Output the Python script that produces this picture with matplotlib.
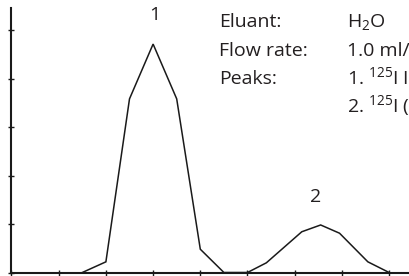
import matplotlib
matplotlib.use("Agg")
import matplotlib.pyplot as plt

plt.rcParams['font.family'] = ['Open Sans', 'DejaVu Sans']
plt.rcParams['mathtext.default'] = 'regular'

# Chromatogram trace (elution time units, response units)
time = [1.5, 2.0, 2.5, 3.0, 3.5, 4.0, 4.5, 5.0, 5.4, 6.15, 6.55, 6.95, 7.55, 8.0]
response = [0, 0.22, 3.58, 4.71, 3.58, 0.48, 0, 0, 0.2, 0.84, 0.98, 0.81, 0.22, 0]

peak_labels = ["1", "2"]
peak_pos = [(3.04, 5.31), (6.45, 1.56)]

x_ticks = list(range(0, 9))
y_ticks = list(range(0, 6))

info_labels = ["Eluant:", "Flow rate:", "Peaks:", ""]
info_values = ["H$_2$O", "1.0 ml/min", "1. $^{125}$I Insulin", "2. $^{125}$I (free)"]

W, H = 410, 276
fig = plt.figure(figsize=(W/100, H/100), dpi=100)
ax_left, ax_bottom = 11.5/W, 3.5/H
ax = fig.add_axes([ax_left, ax_bottom, 1 - ax_left, (272.5 - 8)/H])
ax.plot(time, response, color='#1a1a1a', lw=1.1, solid_joinstyle='miter')
ax.set_xlim(0, (W - 11.5)/47.2)
ax.set_ylim(0, 264.5/48.5)
ax.set_xticks(x_ticks)
ax.set_yticks(y_ticks)
ax.set_xticklabels([])
ax.set_yticklabels([])
ax.tick_params(direction='inout', length=5, width=1, color='#1a1a1a')
for s in ['top', 'right']:
    ax.spines[s].set_visible(False)
for s in ['left', 'bottom']:
    ax.spines[s].set_linewidth(1.5)
    ax.spines[s].set_color('#1a1a1a')
ax.patch.set_alpha(0)

for lab, (px, py) in zip(peak_labels, peak_pos):
    ax.text(px, py, lab, ha='center', va='center', fontsize=14, color='#231f20')

baselines = [27, 55.5, 84, 112.5]
for lab, val, b in zip(info_labels, info_values, baselines):
    fig.text(219/W, 1 - b/H, lab, ha='left', va='baseline', fontsize=14, color='#231f20')
    fig.text(347/W, 1 - b/H, val, ha='left', va='baseline', fontsize=14, color='#231f20')

fig.savefig("out.png", dpi=100)
